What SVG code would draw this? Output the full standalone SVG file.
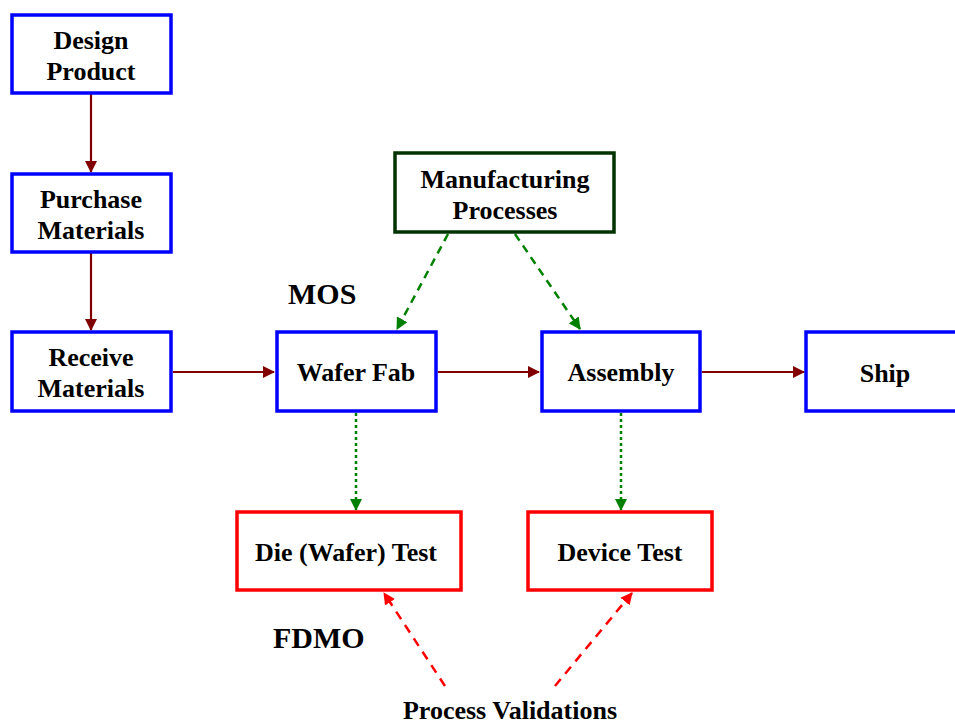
<svg xmlns="http://www.w3.org/2000/svg" width="955" height="726" viewBox="0 0 955 726">
<defs>
<marker id="mr" markerWidth="12" markerHeight="12" refX="11" refY="6" orient="auto" markerUnits="userSpaceOnUse" viewBox="0 0 12 12"><path d="M0,0 L12,6 L0,12 Z" fill="#800000"/></marker>
<marker id="mg" markerWidth="12" markerHeight="12" refX="11" refY="6" orient="auto" markerUnits="userSpaceOnUse" viewBox="0 0 12 12"><path d="M0,0 L12,6 L0,12 Z" fill="#008000"/></marker>
<marker id="mrd" markerWidth="12" markerHeight="12" refX="11" refY="6" orient="auto" markerUnits="userSpaceOnUse" viewBox="0 0 12 12"><path d="M0,0 L12,6 L0,12 Z" fill="#FF0000"/></marker>
</defs>
<style>
.b{fill:#fff;stroke:#0000FF;stroke-width:3.5}
.r{fill:#fff;stroke:#FF0000;stroke-width:3.5}
.g{fill:#fff;stroke:#003300;stroke-width:3.5}
text{font-family:"Liberation Serif","Times New Roman",serif;font-weight:bold;fill:#000;text-anchor:middle}
.t{font-size:26px}
.l{font-size:30px;text-anchor:start}
.a{stroke:#800000;stroke-width:2.2;fill:none;marker-end:url(#mr)}
.gd{stroke:#008000;stroke-width:2.5;fill:none;stroke-dasharray:8,6;marker-end:url(#mg)}
.gt{stroke:#008000;stroke-width:2.5;fill:none;stroke-dasharray:3,3;marker-end:url(#mg)}
.rd{stroke:#FF0000;stroke-width:2.5;fill:none;stroke-dasharray:9,7;marker-end:url(#mrd)}
</style>
<rect width="955" height="726" fill="#fff"/>
<g id="connectors">
<line class="a" x1="91" y1="94" x2="91" y2="172"/>
<line class="a" x1="91" y1="253" x2="91" y2="330"/>
<line class="a" x1="173" y1="372" x2="274" y2="372"/>
<line class="a" x1="438" y1="372" x2="539" y2="372"/>
<line class="a" x1="702" y1="372" x2="804" y2="372"/>
<line class="gd" x1="448" y1="234" x2="397" y2="329"/>
<line class="gd" x1="515" y1="234" x2="580" y2="329"/>
<line class="gt" x1="356" y1="413" x2="356" y2="510"/>
<line class="gt" x1="621" y1="413" x2="621" y2="510"/>
<line class="rd" x1="445" y1="686" x2="384" y2="593"/>
<line class="rd" x1="555" y1="686" x2="632" y2="593"/>
</g>
<g id="design"><rect class="b" x="12" y="15" width="159" height="78"/><text class="t" x="91" y="49">Design</text><text class="t" x="91" y="80">Product</text></g>
<g id="purchase"><rect class="b" x="12" y="174" width="159" height="78"/><text class="t" x="91" y="208">Purchase</text><text class="t" x="91" y="239">Materials</text></g>
<g id="receive"><rect class="b" x="12" y="332" width="159" height="79"/><text class="t" x="91" y="366">Receive</text><text class="t" x="91" y="397">Materials</text></g>
<g id="waferfab"><rect class="b" x="277" y="332" width="159" height="79"/><text class="t" x="356" y="381">Wafer Fab</text></g>
<g id="assembly"><rect class="b" x="542" y="332" width="158" height="79"/><text class="t" x="621" y="381">Assembly</text></g>
<g id="ship"><rect class="b" x="806" y="332" width="160" height="79"/><text class="t" x="885" y="382">Ship</text></g>
<g id="mfg"><rect class="g" x="395" y="153" width="219" height="79"/><text class="t" x="505" y="188">Manufacturing</text><text class="t" x="505" y="219">Processes</text></g>
<g id="dietest"><rect class="r" x="237" y="512" width="224" height="78"/><text class="t" x="346" y="561">Die (Wafer) Test</text></g>
<g id="devtest"><rect class="r" x="528" y="512" width="184" height="78"/><text class="t" x="620" y="561">Device Test</text></g>
<g id="labels">
<text class="l" x="288" y="304">MOS</text>
<text class="l" x="273" y="648">FDMO</text>
<text class="t" x="510" y="719">Process Validations</text>
</g>
</svg>
